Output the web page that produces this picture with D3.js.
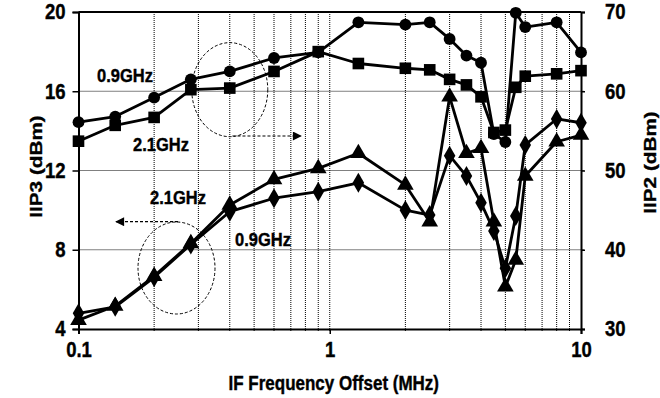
<!DOCTYPE html>
<html><head><meta charset="utf-8">
<script src="https://cdn.jsdelivr.net/npm/d3@7"></script>
<style>
body{margin:0;background:#fff;}
svg{display:block;}
text{font-family:Arial,"Liberation Sans",Helvetica,sans-serif;font-weight:bold;fill:#000;stroke:#000;stroke-width:0.35px;}
</style></head>
<body><svg id="c" width="660" height="398"></svg>
<script>
// IF frequency offsets (MHz)
const freqs = [0.1, 0.14, 0.2, 0.28, 0.4, 0.6, 0.9, 1.3, 2, 2.5, 3, 3.5, 4, 4.5, 5, 5.5, 6, 8, 10];
// IIP2 (dBm) right axis
const iip2_09 = [56.1, 56.8, 59.2, 61.5, 62.5, 64.2, 64.9, 68.7, 68.4, 68.7, 66.6, 64.5, 63.6, 54.6, 53.6, 69.9, 68.1, 68.7, 64.9];
const iip2_21 = [53.7, 55.7, 56.7, 60.2, 60.4, 62.5, 65.0, 63.5, 62.9, 62.7, 61.5, 60.8, 59.3, 54.8, 55.1, 60.5, 61.9, 62.2, 62.6];
// IIP3 (dBm) left axis
const iip3_21 = [4.45, 5.16, 6.67, 8.32, 10.26, 11.55, 12.11, 12.87, 11.27, 9.41, 15.72, 12.87, 13.12, 9.41, 6.13, 7.48, 11.72, 13.45, 13.79];
const iip3_09 = [4.79, 5.12, 6.61, 8.27, 9.92, 10.6, 10.93, 11.38, 10.0, 9.75, 12.75, 11.72, 10.37, 8.95, 7.06, 9.7, 13.29, 14.6, 14.41];
// ticks
const xTicks = [0.1, 1, 10];
const xGrid = [0.2,0.3,0.4,0.5,0.6,0.7,0.8,0.9,1,2,3,4,5,6,7,8,9];
const yLeftTicks = [4, 8, 12, 16, 20];
const yRightTicks = [30, 40, 50, 60, 70];
const yGrid = [8, 12, 16];

const L = 78.5, R = 581, T = 12, B = 329;
const svg = d3.select("#c");
const x = d3.scaleLog().domain([0.1, 10]).range([L, R]);
const yL = d3.scaleLinear().domain([4, 20]).range([B, T]);
const yR = d3.scaleLinear().domain([30, 70]).range([B, T]);

// grid
const g = svg.append("g");
g.selectAll(".vg").data(xGrid).join("line")
  .attr("x1", d => x(d)).attr("x2", d => x(d)).attr("y1", T).attr("y2", B + 2)
  .attr("stroke", "#000").attr("stroke-width", 1).attr("stroke-dasharray", "1,1");
g.selectAll(".hg").data(yGrid).join("line")
  .attr("x1", L).attr("x2", R + 3).attr("y1", d => yL(d)).attr("y2", d => yL(d))
  .attr("stroke", "#000").attr("stroke-width", 1).attr("stroke-dasharray", "1,1");

// axes
const fs = "18.5px";
const ax = svg.append("g").attr("transform", `translate(${L},0)`)
  .call(d3.axisLeft(yL).tickValues(yLeftTicks).tickSize(6).tickPadding(7).tickFormat(d3.format("d")));
const axR = svg.append("g").attr("transform", `translate(${R},0)`)
  .call(d3.axisRight(yR).tickValues(yRightTicks).tickSize(4).tickPadding(20).tickFormat(d3.format("d")));
const axB = svg.append("g").attr("transform", `translate(0,${B})`)
  .call(d3.axisBottom(x).tickValues(xTicks).tickSize(5).tickPadding(6).tickFormat(d => d));
[ax, axR, axB].forEach(a => {
  a.select(".domain").attr("stroke", "#000").attr("stroke-width", 2);
  a.selectAll(".tick line").attr("stroke", "#000").attr("stroke-width", 1.5);
  a.selectAll(".tick text").style("font-size", fs).style("font-weight", "bold")
    .style("font-family", "Arial, 'Liberation Sans', sans-serif").attr("fill", "#000")
    .attr("transform", "scale(1,1.17)");
});
axR.selectAll(".tick text").attr("text-anchor", "start");
// top border
svg.append("line").attr("x1", L).attr("x2", R).attr("y1", T).attr("y2", T)
  .attr("stroke", "#000").attr("stroke-width", 2);

// axis titles
svg.append("text").attr("transform", `translate(36,${(T + B) / 2 - 4}) rotate(-90) scale(1.22,1)`)
  .attr("text-anchor", "middle").attr("dy", "0.35em").style("font-size", "17px").text("IIP3 (dBm)");
svg.append("text").attr("transform", `translate(650,${(T + B) / 2 - 8}) rotate(-90) scale(1.22,1)`)
  .attr("text-anchor", "middle").attr("dy", "0.35em").style("font-size", "17px").text("IIP2 (dBm)");
svg.append("text").attr("transform", `translate(${(L + R) / 2 + 4},390) scale(1,1.2)`)
  .attr("text-anchor", "middle").style("font-size", "17px").text("IF Frequency Offset (MHz)");

// series
function series(vals, yS, shape, size) {
  const pts = freqs.map((f, i) => [x(f), yS(vals[i])]);
  svg.append("path").attr("d", d3.line()(pts)).attr("fill", "none")
    .attr("stroke", "#000").attr("stroke-width", 2.8).attr("stroke-linejoin", "round");
  svg.append("g").selectAll("path").data(pts).join("path")
    .attr("transform", d => `translate(${d[0]},${d[1]})`)
    .attr("d", d3.symbol().type(shape).size(size)).attr("fill", "#000");
}
series(iip2_21, yR, d3.symbolSquare, 135);
series(iip2_09, yR, d3.symbolCircle, 110);
series(iip3_09, yL, d3.symbolDiamond, 115);
series(iip3_21, yL, d3.symbolTriangle, 120);

// annotations
const ann = svg.append("g");
function lab(px, py, s) {
  ann.append("text").attr("transform", `translate(${px},${py}) scale(1,1.15)`)
    .style("font-size", "16.5px").text(s);
}
lab(97, 82, "0.9GHz");
lab(133, 151, "2.1GHz");
lab(150, 204, "2.1GHz");
lab(235, 246, "0.9GHz");

const defs = svg.append("defs");
defs.append("marker").attr("id", "ah").attr("viewBox", "0 0 10 10").attr("refX", 9).attr("refY", 5)
  .attr("markerWidth", 12).attr("markerHeight", 9).attr("markerUnits", "userSpaceOnUse").attr("orient", "auto")
  .append("path").attr("d", "M0,0L10,5L0,10Z").attr("fill", "#000");

ann.append("ellipse").attr("cx", x(0.4)).attr("cy", yR(60.2)).attr("rx", 38).attr("ry", 47)
  .attr("fill", "none").attr("stroke", "#000").attr("stroke-width", 1).attr("stroke-dasharray", "3,2");
ann.append("line").attr("x1", x(0.41)).attr("y1", 136).attr("x2", 301).attr("y2", 136)
  .attr("stroke", "#000").attr("stroke-width", 1.2).attr("stroke-dasharray", "3,2").attr("marker-end", "url(#ah)");

ann.append("ellipse").attr("cx", 176.5).attr("cy", 268).attr("rx", 38.5).attr("ry", 46)
  .attr("fill", "none").attr("stroke", "#000").attr("stroke-width", 1).attr("stroke-dasharray", "3,2");
ann.append("line").attr("x1", 178).attr("y1", 221.7).attr("x2", 116).attr("y2", 221.7)
  .attr("stroke", "#000").attr("stroke-width", 1.2).attr("stroke-dasharray", "3,2").attr("marker-end", "url(#ah)");
</script></body></html>
